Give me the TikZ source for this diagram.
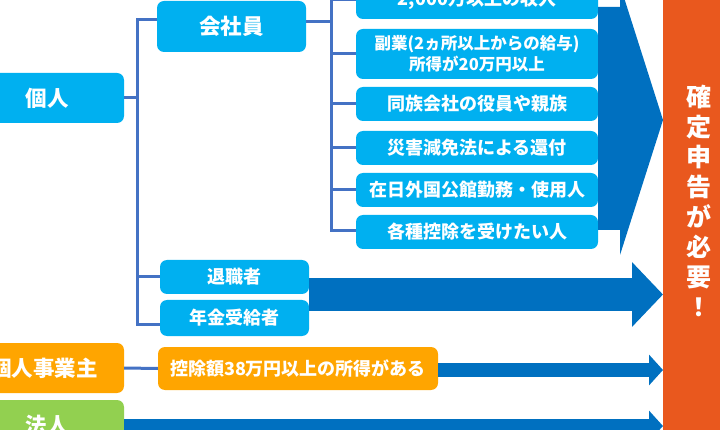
\documentclass[tikz,border=0pt]{standalone}
\usepackage{fontspec}
\newfontfamily\jp{Noto Sans CJK JP}
\usetikzlibrary{arrows.meta}
\definecolor{cyanbox}{HTML}{00B0F0}
\definecolor{darkarrow}{HTML}{0070C0}
\definecolor{linkblue}{HTML}{4472C4}
\definecolor{orangebox}{HTML}{FFA500}
\definecolor{greenbox}{HTML}{92D050}
\definecolor{barorange}{HTML}{E9581E}
\begin{document}
\begin{tikzpicture}[x=1pt,y=-1pt,
  box/.style={rounded corners=7pt, text=white, inner sep=0pt, align=center},
  cbox/.style={box, fill=cyanbox},
  obox/.style={box, fill=orangebox},
  gbox/.style={box, fill=greenbox},
  fbig/.style={font=\jp\bfseries\fontsize{21.5}{25}\selectfont},
  fmid/.style={font=\jp\bfseries\fontsize{18}{22}\selectfont},
  fsmall/.style={font=\jp\bfseries\fontsize{16.5}{21}\selectfont},
  link/.style={draw=linkblue, line width=3pt},
  fatarrow/.style={draw=darkarrow, line width=#1},
]
\useasboundingbox (0,0) rectangle (720,430);
\clip (0,0) rectangle (720,430);

% left column
\node[cbox, fbig, minimum width=154pt, minimum height=50pt] (kojin) at (47,98) {個人};
\node[obox, fbig, minimum width=160pt, minimum height=50pt] (jigyo) at (44,368) {個人事業主};
\node[gbox, fbig, minimum width=154pt, minimum height=50pt] (houjin) at (47,425) {法人};

% middle column
\node[cbox, fbig, minimum width=149pt, minimum height=51pt] (kaisha) at (231.5,26.5) {会社員};
\node[cbox, fmid, minimum width=149pt, minimum height=34pt] (taishoku) at (234.5,277) {退職者};
\node[cbox, fmid, minimum width=149pt, minimum height=36pt] (nenkin) at (234.5,318) {年金受給者};
\node[obox, fmid, minimum width=280pt, minimum height=43pt] (koujo) at (298,368.5) {控除額38万円以上の所得がある};

% right column
\node[cbox, fmid, minimum width=242pt, minimum height=39pt] (r1) at (477,-0.5) {2,000万以上の収入};
\node[cbox, fsmall, minimum width=242pt, minimum height=50pt] (r2) at (477,54) {副業(2ヵ所以上からの給与)\\所得が20万円以上};
\node[cbox, fmid, minimum width=242pt, minimum height=34pt] (r3) at (477,104) {同族会社の役員や親族};
\node[cbox, fmid, minimum width=242pt, minimum height=34pt] (r4) at (477,148) {災害減免法による還付};
\node[cbox, fmid, minimum width=242pt, minimum height=34pt] (r5) at (477,190) {在日外国公館勤務・使用人};
\node[cbox, fmid, minimum width=242pt, minimum height=34pt] (r6) at (477,232) {各種控除を受けたい人};

% result bar
\node[fill=barorange, minimum width=57pt, minimum height=440pt, inner sep=0pt, anchor=west] (bar) at (663,215) {};
\node[text=white, font=\jp\bfseries\fontsize{25}{30}\selectfont, align=center, inner sep=0pt] (bartext) at (699,201) {確\\定\\申\\告\\が\\必\\要\\！};

% connectors
\coordinate (v1t) at (137,20);
\coordinate (v1b) at (137,324);
\draw[link] (kojin.east) -- (kojin.east -| v1t);
\draw[link] (kaisha.west |- v1t) -- (v1t) -- (v1b) -- (nenkin.west |- v1b);
\draw[link] (taishoku.west -| v1t) -- (taishoku.west);

\coordinate (v2t) at (331,-5);
\coordinate (v2b) at (331,231);
\draw[link] ([yshift=5pt]kaisha.east) -- ([yshift=5pt]kaisha.east -| v2t);
\draw[link] (v2t) -- (v2b) -- (r6.west |- v2b);
\foreach \n in {r1,r2,r3,r4,r5} \draw[link] (\n.west -| v2t) -- (\n.west);

\draw[link] (jigyo.east) -- (koujo.west);

% arrows
\fill[darkarrow] (r1.east |- 0,7) -- (620,7) -- (620,-15) -- (bar.west |- 0,120)
  -- (620,255) -- (620,230) -- (r6.east |- 0,230) -- cycle;
\draw[fatarrow=33pt, -{Triangle[width=63pt,length=31pt]}] (taishoku.east |- 0,294.5) -- (bar.west |- 0,294.5);
\draw[fatarrow=14pt, -{Triangle[width=30pt,length=14pt]}] (koujo.east |- 0,370) -- (bar.west |- 0,370);
\draw[fatarrow=14pt, -{Triangle[width=30pt,length=14pt]}] (houjin.east |- 0,426) -- (bar.west |- 0,426);
\end{tikzpicture}
\end{document}
